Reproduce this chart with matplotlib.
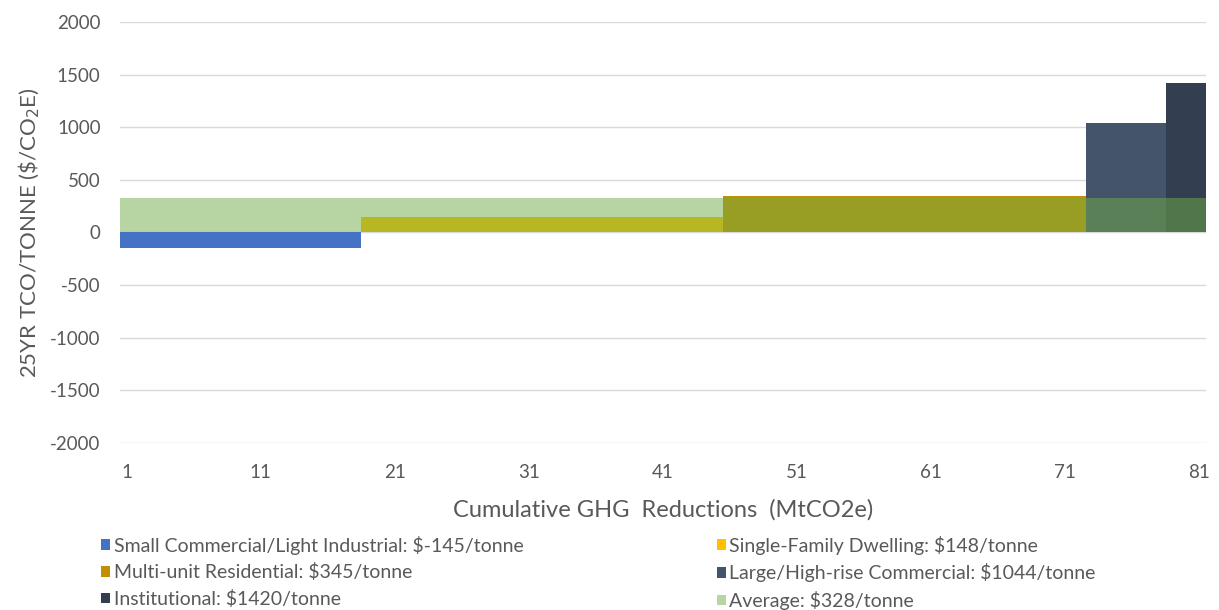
import numpy as np
import matplotlib.pyplot as plt

# sector costs and the GHG reduction each one covers
sectors = ["Small Commercial/Light Industrial", "Single-Family Dwelling",
           "Multi-unit Residential", "Large/High-rise Commercial", "Institutional"]
costs = [-145, 148, 345, 1044, 1420]      # $/tonne
reductions = [18, 27, 27, 6, 3]           # MtCO2e
colors = ["#4472c4", "#ffc000", "#bf9000", "#44546a", "#333f50"]
average = 328
x_ticks = [1, 11, 21, 31, 41, 51, 61, 71, 81]
y_ticks = [-2000, -1500, -1000, -500, 0, 500, 1000, 1500, 2000]

plt.rcParams["font.family"] = ["Lato", "DejaVu Sans"]
plt.rcParams["axes.unicode_minus"] = False
txt = "#595959"

fig = plt.figure(figsize=(12.19, 6.10), dpi=100)
ax = fig.add_axes([0.0985, 0.274, 0.891, 0.69])

lefts = 0.5 + np.concatenate([[0], np.cumsum(reductions)[:-1]])
handles = []
for left, w, c, col, name in zip(lefts, reductions, costs, colors, sectors):
    b = ax.bar(left, c, width=w, align="edge", color=col, linewidth=0, zorder=2,
               label=f"{name}: ${c}/tonne")
    handles.append(b)

# average band laid over everything, half transparent
avg = ax.bar(0.5, average, width=sum(reductions), align="edge", color="#70ad47",
             alpha=0.5, linewidth=0, zorder=3, label=f"Average: ${average}/tonne")
handles.append(avg)

ax.set_xlim(0.5, 81.5)
ax.set_ylim(-2000, 2000)
ax.set_xticks(x_ticks)
ax.set_yticks(y_ticks)
ax.tick_params(length=0, colors=txt, labelsize=13.5)
ax.tick_params(axis="x", pad=15)
ax.tick_params(axis="y", pad=14)
ax.grid(axis="y", color="#d9d9d9", linewidth=1)
ax.set_axisbelow(True)
for s in ax.spines.values():
    s.set_visible(False)

ax.set_xlabel("Cumulative GHG  Reductions  (MtCO2e)", color=txt, fontsize=17, labelpad=13)
ax.set_ylabel("25YR TCO/TONNE (\\$/CO$_2$E)", color=txt, fontsize=16)
ax.yaxis.set_label_coords(-0.072, 0.5)

leg_kw = dict(frameon=False, fontsize=14, labelcolor=txt, handlelength=0.45,
              handleheight=0.45, handletextpad=0.2, labelspacing=0.45,
              borderaxespad=0, borderpad=0, loc="upper left")
left_col = [handles[0], handles[2], handles[4]]
right_col = [handles[1], handles[3], handles[5]]
fig.legend(left_col, [h.get_label() for h in left_col],
           bbox_to_anchor=(0.083, 0.122), **leg_kw)
fig.legend(right_col, [h.get_label() for h in right_col],
           bbox_to_anchor=(0.588, 0.122), **leg_kw)

fig.savefig("out.png", dpi=100)
